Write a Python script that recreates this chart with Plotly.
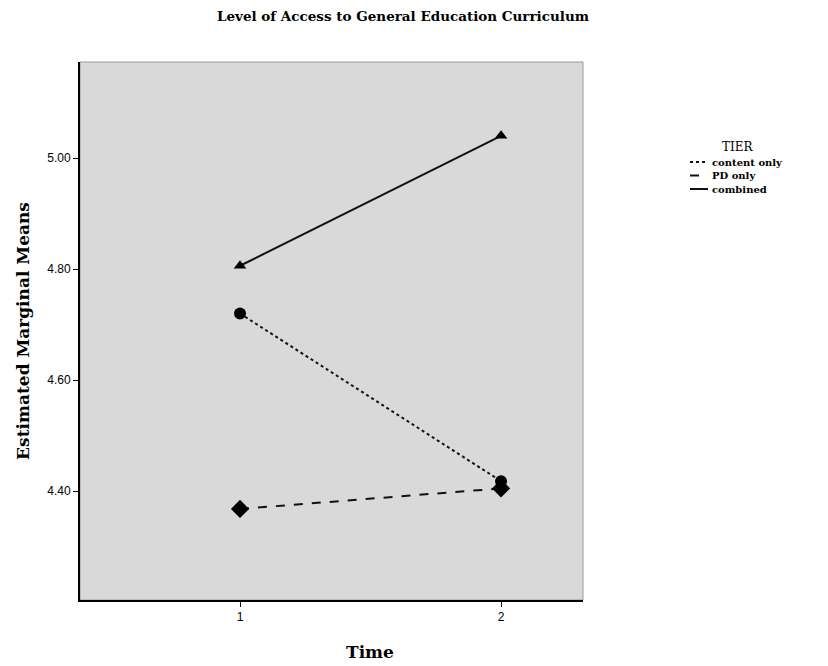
import plotly.graph_objects as go

time_points = [1, 2]
series_names = ["content only", "PD only", "combined"]
content_only = [4.72, 4.418]
pd_only = [4.368, 4.405]
combined = [4.806, 5.04]
y_ticks = [4.40, 4.60, 4.80, 5.00]
y_tick_labels = ["4.40", "4.60", "4.80", "5.00"]
x_ticks = [1, 2]
x_tick_labels = ["1", "2"]

values = [content_only, pd_only, combined]
dashes = ["dot", "dash", "solid"]
symbols = ["circle", "diamond", "triangle-up"]
sizes = [12, 14, 11]

serif = "DejaVu Serif, Liberation Serif, serif"
sans = "Liberation Sans, Arial, sans-serif"

fig = go.Figure()
for name, vals, dash, sym, sz in zip(series_names, values, dashes, symbols, sizes):
    fig.add_trace(go.Scatter(
        x=time_points, y=vals, mode="lines+markers", name=name,
        line=dict(color="#111111", width=2, dash=dash),
        marker=dict(symbol=sym, size=sz, color="#000000"),
        showlegend=False))

# page body has an 8px offset; margins compensate so the plot lands at x 80-583, y 62-600
L, T, PW, PH = 72, 54, 503, 538
fig.update_layout(
    width=828, height=666,
    margin=dict(l=L, r=828 - L - PW, t=T, b=666 - T - PH),
    paper_bgcolor="white",
    plot_bgcolor="#d9d9d9",
    showlegend=False,
    title=dict(text="<b>Level of Access to General Education Curriculum</b>",
               x=(403 - 8) / 828, xanchor="center", y=1 - 8 / 666, yanchor="middle",
               font=dict(family=serif, size=13.5, color="black")),
    xaxis=dict(range=[0.387, 2.314], tickvals=x_ticks, ticktext=x_tick_labels,
               showgrid=False, zeroline=False, showline=True, linecolor="black",
               linewidth=2, ticks="outside", ticklen=5, tickcolor="black",
               tickfont=dict(family=sans, size=12, color="black")),
    yaxis=dict(range=[4.204, 5.173], tickvals=y_ticks, ticktext=y_tick_labels,
               showgrid=False, zeroline=False, showline=True, linecolor="black",
               linewidth=2, ticks="outside", ticklen=5, tickcolor="black",
               tickfont=dict(family=sans, size=12, color="black"),
               title=dict(text="<b>Estimated Marginal Means</b>",
                          font=dict(family=serif, size=17, color="black"), standoff=13)),
)
fig.add_shape(type="rect", xref="paper", yref="paper", x0=0, y0=0, x1=1, y1=1,
              line=dict(color="#9a9a9a", width=1), layer="below")

# x-axis title (offset to the right as in the reference)
fig.add_annotation(text="<b>Time</b>", xref="paper", yref="paper",
                   x=(370 - 80) / PW, y=(600 - 652) / PH, xanchor="center", yanchor="middle",
                   showarrow=False, font=dict(family=serif, size=17, color="black"))

# legend drawn in paper coordinates
def px(xp):
    return (xp - 80) / PW

def py(yp):
    return (600 - yp) / PH

fig.add_annotation(text="TIER", xref="paper", yref="paper", x=px(738), y=py(147),
                   xanchor="center", yanchor="middle", showarrow=False,
                   font=dict(family=serif, size=12, color="black"))
legend_rows = [162, 175.5, 189]
for name, dash, ry in zip(series_names, dashes, legend_rows):
    fig.add_shape(type="line", xref="paper", yref="paper",
                  x0=px(690), x1=px(708), y0=py(ry), y1=py(ry),
                  line=dict(color="#111111", width=2, dash=dash))
    fig.add_annotation(text="<b>" + name + "</b>", xref="paper", yref="paper",
                       x=px(710), y=py(ry), xanchor="left", yanchor="middle",
                       showarrow=False, font=dict(family=serif, size=10, color="black"))

fig.write_html("out.html")
